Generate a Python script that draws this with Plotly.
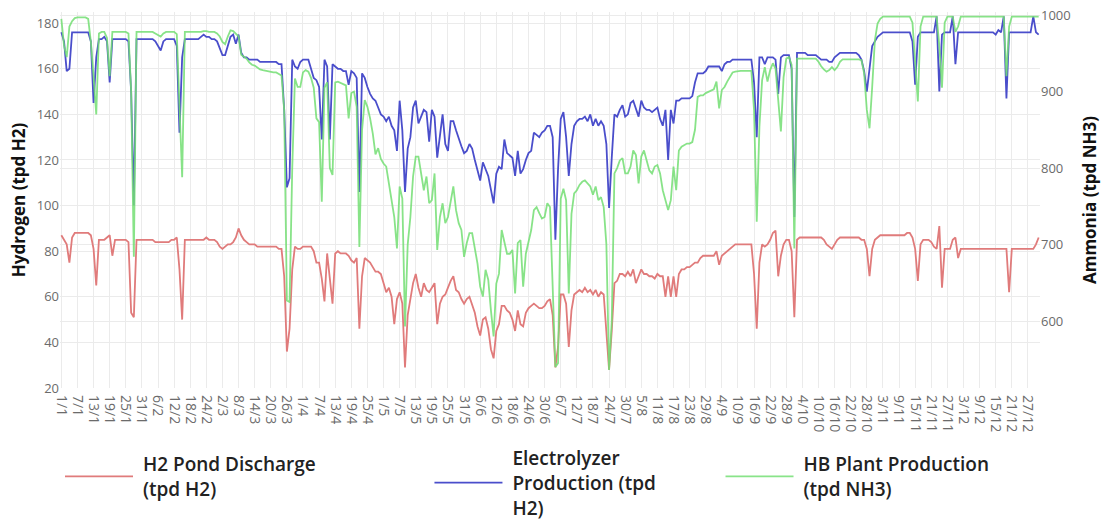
import pandas as pd
import plotly.graph_objects as go

# ---------------- data (daily values, 1 Jan - 31 Dec) ----------------
DATES = pd.date_range("2019-01-01", "2019-12-31", freq="D")

TICK_LABELS = ["1/1", "7/1", "13/1", "19/1", "25/1", "31/1", "6/2", "12/2", "18/2", "24/2",
               "2/3", "8/3", "14/3", "20/3", "26/3", "1/4", "7/4", "13/4", "19/4", "25/4",
               "1/5", "7/5", "13/5", "19/5", "25/5", "31/5", "6/6", "12/6", "18/6", "24/6",
               "30/6", "6/7", "12/7", "18/7", "24/7", "30/7", "5/8", "11/8", "17/8", "23/8",
               "29/8", "4/9", "10/9", "16/9", "22/9", "28/9", "4/10", "10/10", "16/10", "22/10",
               "28/10", "3/11", "9/11", "15/11", "21/11", "27/11", "3/12", "9/12", "15/12", "21/12",
               "27/12"]

# H2 Pond Discharge (tpd H2) - left axis
POND_H2 = [
    87,85,83,75,86,88,88,88,88,88,88,87,81,65,85,85,85,86,87,78,85,85,85,85,85,84,53,51,85,85,85,
    85,85,85,85,84,84,84,84,84,84,85,85,86,72,50,85,85,85,85,85,85,85,85,86,85,85,85,84,
    82,81,82,83,83,84,86,90,87,85,84,83,83,83,82,82,82,82,82,82,82,82,81,81,69,36,46,72,82,81,81,
    82,82,82,82,80,75,75,68,58,79,68,57,79,80,79,79,79,78,76,75,77,46,69,77,76,75,73,71,71,70,
    66,62,64,60,48,59,62,57,29,52,59,66,70,64,60,66,63,62,64,66,48,57,60,61,64,67,69,63,62,59,57,
    59,60,56,53,47,43,50,51,46,37,33,45,48,56,56,54,53,50,45,54,48,47,53,55,56,57,56,55,55,56,
    58,59,52,29,38,61,61,57,38,54,61,62,63,62,64,62,63,61,63,60,62,61,45,28,45,66,67,70,70,69,71,
    69,72,66,69,72,70,70,69,69,68,70,69,69,60,69,60,69,60,70,72,72,73,73,74,75,75,77,78,78,78,78,
    78,80,74,78,79,80,81,82,83,83,83,83,83,83,83,70,46,75,83,82,83,85,88,89,69,78,83,85,85,80,
    51,85,86,86,86,86,86,86,86,86,86,85,83,82,81,83,85,86,86,86,86,86,86,86,86,85,85,81,69,81,85,
    86,87,87,87,87,87,87,87,87,87,87,88,88,86,81,67,83,85,85,85,84,82,81,91,64,81,81,81,85,86,
    77,81,81,81,81,81,81,81,81,81,81,81,81,81,81,81,81,81,81,62,81,81,81,81,81,81,81,81,81,83,86,
]

# Electrolyzer Production (tpd H2) - left axis
ELECTROLYZER_H2 = [
    176,172,159,160,176,176,176,176,176,176,176,172,145,165,173,173,174,172,154,173,173,173,173,173,173,172,150,100,173,173,173,
    173,173,173,173,172,170,168,172,173,173,173,173,170,132,165,173,173,173,173,173,173,174,175,174,174,173,173,172,
    169,166,166,170,174,175,171,175,167,165,165,164,164,164,164,163,163,163,163,163,163,163,162,162,142,108,112,164,161,160,163,
    164,164,164,160,156,155,152,129,164,161,129,162,161,160,160,159,159,153,159,158,156,106,158,156,152,149,147,146,143,140,
    139,137,139,135,133,124,146,133,106,125,130,143,146,136,139,142,141,128,142,139,121,130,140,127,124,137,137,133,129,126,123,
    124,127,125,120,116,111,119,116,113,107,101,114,117,116,129,123,122,121,113,124,114,116,120,123,124,132,131,130,132,133,
    135,135,130,85,116,138,141,130,113,127,135,137,138,138,139,137,140,135,138,135,137,135,127,99,121,140,139,142,144,139,140,
    145,146,142,139,146,143,142,142,141,142,143,138,135,142,120,142,136,146,146,147,147,147,147,148,154,158,158,158,159,161,161,
    161,161,161,159,162,163,163,164,164,164,164,164,164,164,164,154,130,165,165,162,165,165,165,164,149,165,166,166,166,160,
    95,167,167,167,167,166,166,166,166,165,164,164,164,163,163,165,166,167,167,167,167,167,167,167,166,164,159,150,160,170,172,
    174,175,176,176,176,176,176,176,176,176,176,176,176,172,153,174,176,176,176,176,176,176,183,150,175,176,176,176,183,162,
    176,176,176,176,176,176,176,176,176,176,176,176,176,176,175,177,176,183,147,176,176,176,176,176,176,176,176,176,183,176,175,
]

# HB Plant Production (tpd NH3) - right axis
HB_NH3 = [
    995,960,945,985,992,996,997,997,997,997,995,965,920,870,976,978,978,970,920,978,978,978,978,978,978,976,900,684,978,978,978,
    978,978,978,978,976,974,972,976,978,978,978,978,975,880,788,978,978,978,978,978,978,978,979,979,978,978,978,976,
    972,965,962,972,980,979,976,972,948,945,943,938,935,934,931,929,928,927,926,926,925,925,923,921,876,627,625,800,917,906,906,
    925,928,926,918,905,865,860,756,905,912,800,791,912,913,911,910,908,865,898,900,880,697,850,889,880,865,845,818,826,812,
    806,802,780,762,736,695,776,760,593,700,736,789,815,815,793,771,789,754,758,793,693,736,754,728,736,758,776,745,728,719,684,
    702,715,715,697,675,645,632,667,654,614,580,649,662,719,702,688,688,693,636,702,706,645,688,702,719,745,749,741,734,736,
    754,749,650,540,545,760,773,758,636,740,767,771,778,782,784,780,776,765,776,758,762,749,700,536,600,793,800,810,813,793,793,
    802,823,817,780,815,823,810,797,793,802,804,793,771,758,745,758,802,771,823,828,830,832,832,834,850,893,895,895,898,900,902,
    903,913,878,902,906,913,919,925,926,927,927,927,927,927,927,876,730,854,915,932,913,928,937,930,893,848,919,943,945,935,
    695,943,943,943,943,943,943,943,943,939,933,929,926,928,932,928,932,939,942,942,942,942,942,942,942,941,924,876,852,906,967,
    989,995,998,998,998,998,998,998,998,998,998,998,998,990,940,887,985,998,998,998,998,998,998,960,905,990,998,998,998,978,
    985,998,998,998,998,998,998,998,998,998,998,998,998,998,998,998,998,998,920,985,998,998,998,998,998,998,998,998,998,998,998,
]

assert len(POND_H2) == len(ELECTROLYZER_H2) == len(HB_NH3) == len(DATES)

# ---------------- figure ----------------
RED, BLUE, GREEN = "#e07b7b", "#4a4ecb", "#74df74"
GRID = "#ebebeb"
LEG_FONT = dict(family="Open Sans", size=19, color="#222222", weight=600)
TITLE_FONT = dict(family="Open Sans", size=17, color="#111111", weight="bold")
NB = "\u00a0"

fig = go.Figure()
fig.add_trace(go.Scatter(x=DATES, y=POND_H2, mode="lines",
                         name=NB + "H2 Pond Discharge<br>" + NB + "(tpd H2)",
                         line=dict(color=RED, width=1.8), legend="legend"))
fig.add_trace(go.Scatter(x=DATES, y=ELECTROLYZER_H2, mode="lines",
                         name=NB + "Electrolyzer<br>" + NB + "Production (tpd<br>" + NB + "H2)",
                         line=dict(color=BLUE, width=1.8), legend="legend2"))
fig.add_trace(go.Scatter(x=DATES, y=HB_NH3, mode="lines",
                         name=NB + "HB Plant Production<br>" + NB + "(tpd NH3)",
                         line=dict(color=GREEN, width=1.8), opacity=0.85, yaxis="y2", legend="legend3"))

tickvals = list(DATES[::6])

leg_common = dict(orientation="v", yanchor="top", xanchor="left", itemwidth=68,
                  font=LEG_FONT, bgcolor="rgba(0,0,0,0)", valign="middle")

fig.update_layout(
    width=1105, height=523,
    margin=dict(l=60, r=65, t=12, b=135, autoexpand=False),
    paper_bgcolor="white", plot_bgcolor="white",
    showlegend=True,
    xaxis=dict(
        range=[pd.Timestamp("2018-12-31 12:00"), pd.Timestamp("2019-12-31 12:00")],
        tickmode="array", tickvals=tickvals, ticktext=TICK_LABELS,
        tickangle=90, tickfont=dict(family="Open Sans", size=14, color="#6b6b6b"),
        ticklabelstandoff=6, automargin=False,
        showgrid=True, gridcolor=GRID, showline=False, zeroline=False, ticks="",
    ),
    yaxis=dict(
        range=[20, 184.9], tickmode="array", tickvals=[20, 40, 60, 80, 100, 120, 140, 160, 180],
        tickfont=dict(family="Open Sans", size=13, color="#6b6b6b"), automargin=False,
        showgrid=True, gridcolor=GRID, zeroline=False, showline=False,
        title=dict(text="Hydrogen (tpd H2)", font=TITLE_FONT, standoff=6),
    ),
    yaxis2=dict(
        range=[512.5, 1004], overlaying="y", side="right",
        tickmode="array", tickvals=[600, 700, 800, 900, 1000],
        tickfont=dict(family="Open Sans", size=13, color="#6b6b6b"), automargin=False,
        showgrid=True, gridcolor=GRID, zeroline=False, showline=False,
        title=dict(text="Ammonia (tpd NH3)", font=TITLE_FONT, standoff=14),
    ),
    legend=dict(x=0.0, y=-0.152, **leg_common),
    legend2=dict(x=0.377, y=-0.136, **leg_common),
    legend3=dict(x=0.674, y=-0.152, **leg_common),
)

fig.write_html("out.html")
